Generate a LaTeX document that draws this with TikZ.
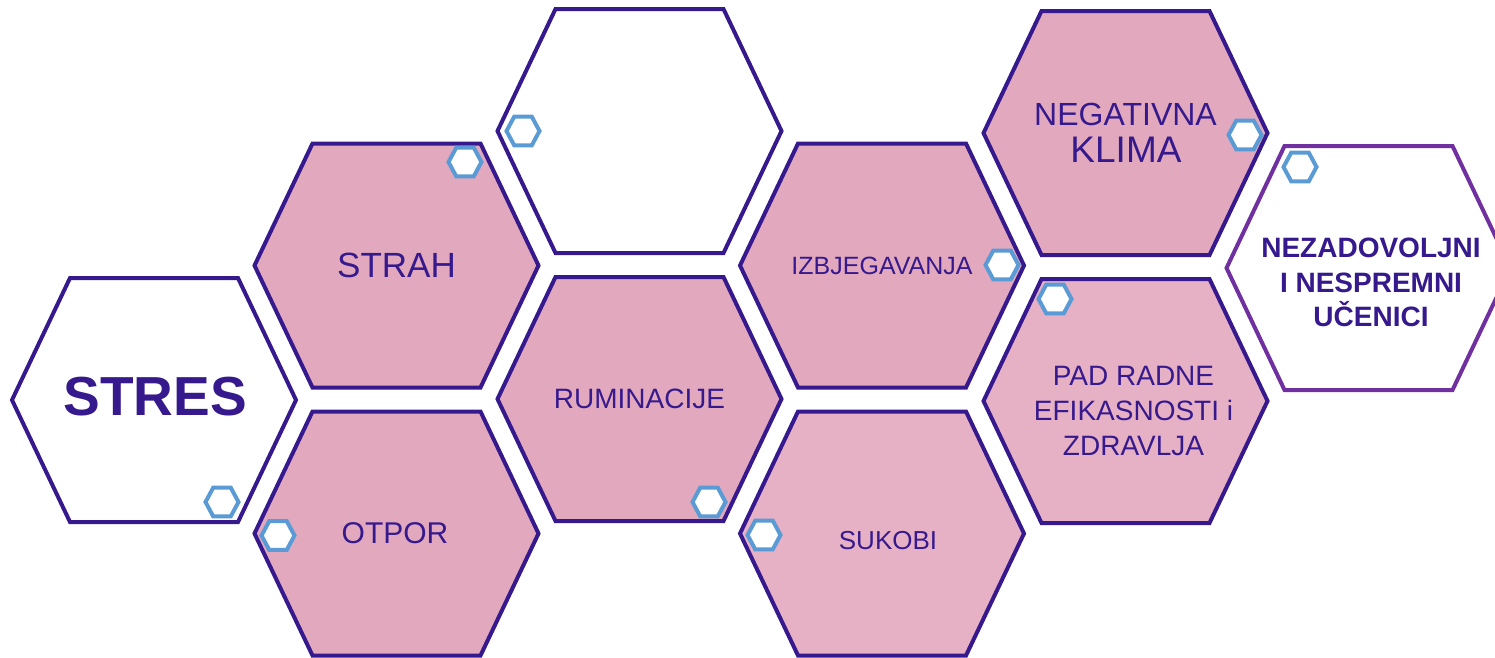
\documentclass[tikz,border=0pt]{standalone}
\usepackage{fontspec}
\setmainfont{Liberation Sans}
\definecolor{dpurple}{HTML}{36198C}
\definecolor{lpurple}{HTML}{7030A0}
\definecolor{pinkA}{HTML}{E2A9BE}
\definecolor{pinkB}{HTML}{E6B0C5}
\definecolor{hexblue}{HTML}{5B9BD5}
\tikzset{
  bighex/.pic={\draw[pic actions] (-142,0) -- (-84,-122) -- (84,-122) -- (142,0) -- (84,122) -- (-84,122) -- cycle;},
  smallhex/.pic={\draw[pic actions] (-16.5,0) -- (-8.8,-14.3) -- (8.8,-14.3) -- (16.5,0) -- (8.8,14.3) -- (-8.8,14.3) -- cycle;},
  hexpink/.style={draw=dpurple, fill=pinkA, line width=4pt, line join=miter},
  hexpinkb/.style={draw=dpurple, fill=pinkB, line width=4pt, line join=miter},
  hexwhite/.style={draw=dpurple, fill=white, line width=4pt, line join=miter},
  hexlight/.style={draw=lpurple, fill=white, line width=4pt, line join=miter},
  dot/.style={draw=hexblue, fill=white, line width=4pt, line join=miter},
  lbl/.style={text=dpurple, inner sep=0pt, anchor=base},
  mlbl/.style={text=dpurple, inner sep=0pt, align=center, anchor=center},
}
\begin{document}
\begin{tikzpicture}[x=1pt,y=-1pt]
\useasboundingbox (0,0) rectangle (1495,657);
\clip (0,0) rectangle (1495,657);
% large hexagons
\pic[hexwhite] at (154,400) {bighex};
\pic[hexpink] at (396.5,265.5) {bighex};
\pic[hexwhite] at (639.5,131) {bighex};
\pic[hexpink] at (396.5,533.5) {bighex};
\pic[hexpink] at (639.5,399) {bighex};
\pic[hexpink] at (882,265.5) {bighex};
\pic[hexpinkb] at (882,533.5) {bighex};
\pic[hexpink] at (1125.5,133) {bighex};
\pic[hexpinkb] at (1125.5,401) {bighex};
\pic[hexlight] at (1368.5,268) {bighex};
% small hexagons
\pic[dot] at (523,131) {smallhex};
\pic[dot] at (465,162) {smallhex};
\pic[dot] at (222,502) {smallhex};
\pic[dot] at (278,535.5) {smallhex};
\pic[dot] at (709,502) {smallhex};
\pic[dot] at (764,535) {smallhex};
\pic[dot] at (1002,265) {smallhex};
\pic[dot] at (1055,299) {smallhex};
\pic[dot] at (1245,135) {smallhex};
\pic[dot] at (1300,167) {smallhex};
% labels
\node[lbl, font=\fontsize{55}{60}\selectfont\bfseries] (stres) at (155,415) {STRES};
\node[lbl, font=\fontsize{35}{40}\selectfont] (strah) at (396.5,277) {STRAH};
\node[lbl, font=\fontsize{28}{32}\selectfont] (rum) at (639.5,408) {RUMINACIJE};
\node[lbl, font=\fontsize{25}{30}\selectfont] (izb) at (882,274) {IZBJEGAVANJA};
\node[lbl, font=\fontsize{30}{34}\selectfont] (otpor) at (395,543) {OTPOR};
\node[lbl, font=\fontsize{26}{30}\selectfont] (sukobi) at (888,549) {SUKOBI};
\node[lbl, font=\fontsize{32}{36}\selectfont] (neg) at (1125.5,125) {NEGATIVNA};
\node[lbl, font=\fontsize{37}{40}\selectfont] (klima) at (1126,162) {KLIMA};
\node[mlbl, font=\fontsize{28}{35}\selectfont] (pad) at (1133.5,411) {PAD RADNE\\EFIKASNOSTI i\\ZDRAVLJA};
\node[mlbl, font=\fontsize{28}{34.5}\selectfont\bfseries] (nez) at (1371,282.5) {NEZADOVOLJNI\\I NESPREMNI\\UČENICI};
\end{tikzpicture}
\end{document}
